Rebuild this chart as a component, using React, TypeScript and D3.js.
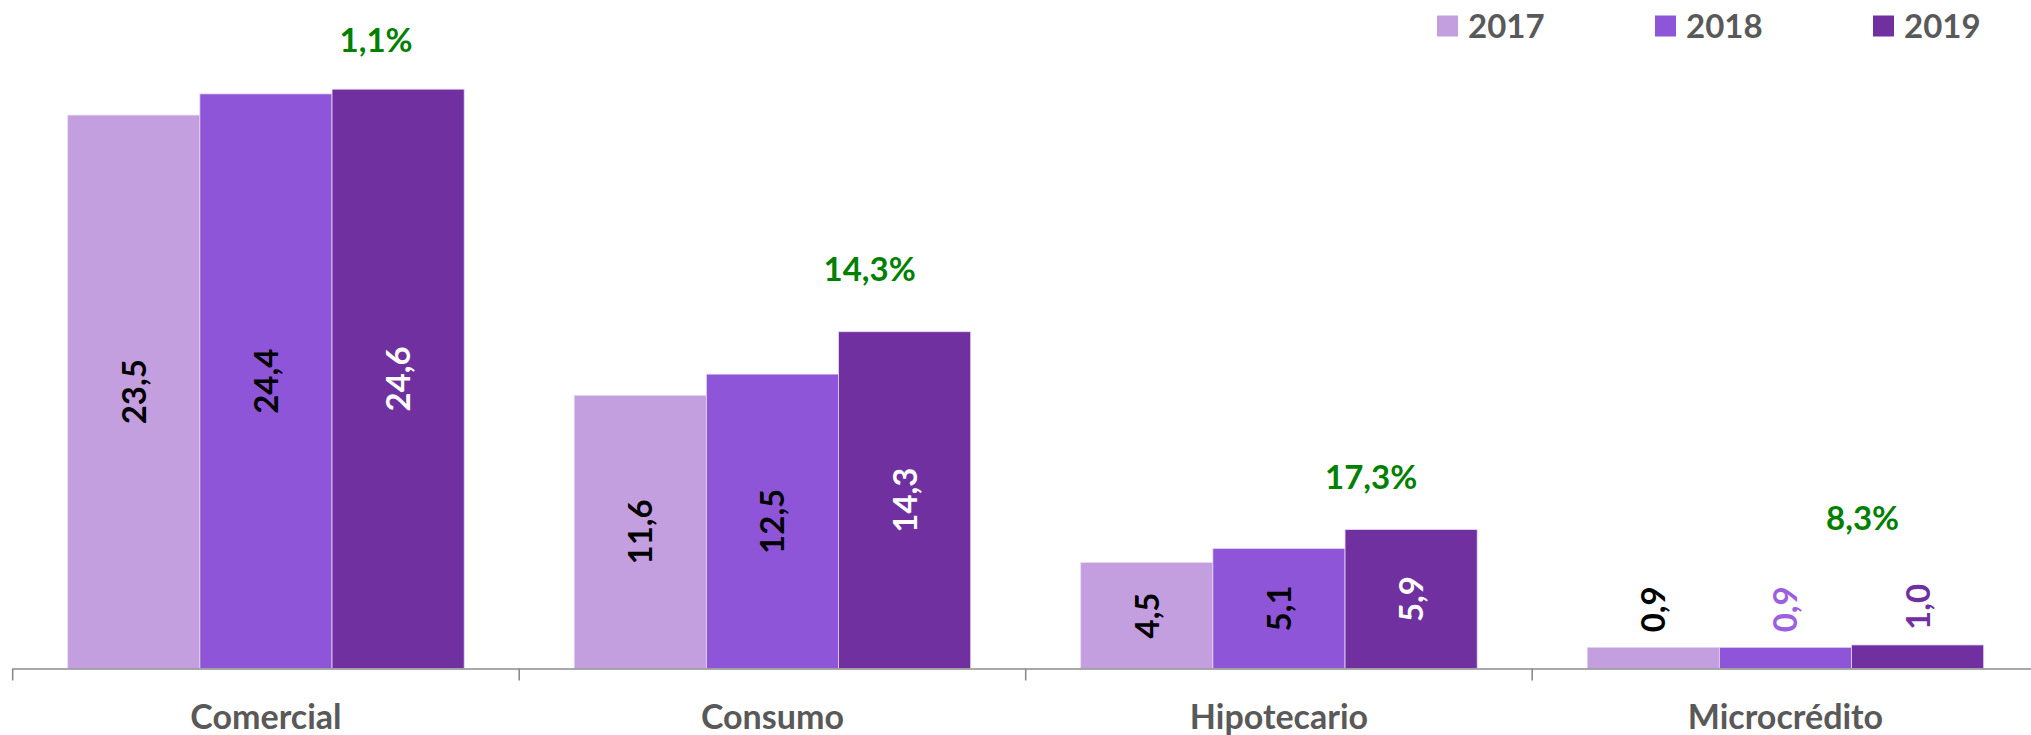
import React from "react";
import * as d3 from "d3";

const categories = ["Comercial", "Consumo", "Hipotecario", "Microcrédito"];
const years = ["2017", "2018", "2019"];
const values2017 = [23.5, 11.6, 4.5, 0.9];
const values2018 = [24.4, 12.5, 5.1, 0.9];
const values2019 = [24.6, 14.3, 5.9, 1.0];
const growth = [1.1, 14.3, 17.3, 8.3];

const seriesValues = [values2017, values2018, values2019];

// layout / style (kept apart from data)
const W = 2031;
const H = 735;
const colors = ["#C49FE0", "#8F55D9", "#7030A0"];
const insideLabelColors = ["#000000", "#000000", "#FFFFFF"];
const outsideLabelColors = ["#000000", "#9A60E0", "#7030A0"];
const growthOffsets = [
  { dx: -22, dy: -37.5 },
  { dx: -35, dy: -51 },
  { dx: -40, dy: -40.5 },
  { dx: -55, dy: -115 },
];
const FONT = "Lato, 'Open Sans', sans-serif";
const plotLeft = 12.7;
const catWidth = 506.5;
const baseY = 668.5;
const pxPerUnit = 23.55;

const fmt = (v: number) => d3.format(".1f")(v).replace(".", ",");

export default function App() {
  const x0 = d3
    .scaleBand<string>()
    .domain(categories)
    .range([plotLeft, plotLeft + catWidth * categories.length])
    .paddingInner(0)
    .paddingOuter(0);
  const x1 = d3
    .scaleBand<string>()
    .domain(years)
    .range([55, catWidth - 55])
    .padding(0);
  const yMax = 28;
  const y = d3.scaleLinear().domain([0, yMax]).range([baseY, baseY - yMax * pxPerUnit]);

  const tickXs = categories.map((c) => x0(c)!);

  return (
    <svg
      width={W}
      height={H}
      style={{ position: "absolute", left: 0, top: 0, background: "#fff" }}
      fontFamily={FONT}
    >
      <rect x={0} y={0} width={W} height={H} fill="#fff" />
      {/* bars */}
      {categories.map((c, ci) => (
        <g key={c} transform={`translate(${x0(c)},0)`}>
          {years.map((yr, si) => {
            const v = seriesValues[si][ci];
            const bx = x1(yr)!;
            const bw = x1.bandwidth();
            const top = y(v);
            return (
              <rect
                key={yr}
                x={bx}
                y={top}
                width={bw}
                height={baseY - top}
                fill={colors[si]}
                stroke="#E6DAF3"
                strokeWidth={0.8}
              />
            );
          })}
        </g>
      ))}
      {/* axis */}
      <line x1={plotLeft} x2={W} y1={baseY + 0.5} y2={baseY + 0.5} stroke="#8C8C8C" strokeWidth={1.6} />
      {tickXs.map((tx, i) => (
        <line key={i} x1={tx} x2={tx} y1={baseY} y2={baseY + 12} stroke="#8C8C8C" strokeWidth={1.6} />
      ))}
      {/* category labels */}
      {categories.map((c) => (
        <text
          key={c}
          x={x0(c)! + catWidth / 2}
          y={729}
          textAnchor="middle"
          fontSize={34}
          fontWeight={700}
          fill="#595959"
        >
          {c}
        </text>
      ))}
      {/* value labels */}
      {categories.map((c, ci) =>
        years.map((yr, si) => {
          const v = seriesValues[si][ci];
          const cx = x0(c)! + x1(yr)! + x1.bandwidth() / 2;
          const top = y(v);
          const inside = baseY - top > 80;
          if (inside) {
            const cy = (top + baseY) / 2;
            return (
              <text
                key={c + yr}
                transform={`translate(${cx},${cy}) rotate(-90)`}
                textAnchor="middle"
                dy="0.36em"
                fontSize={33}
                fontWeight={700}
                fill={insideLabelColors[si]}
              >
                {fmt(v)}
              </text>
            );
          }
          return (
            <text
              key={c + yr}
              transform={`translate(${cx},${top - 15}) rotate(-90)`}
              textAnchor="start"
              dy="0.36em"
              fontSize={33}
              fontWeight={700}
              fill={outsideLabelColors[si]}
            >
              {fmt(v)}
            </text>
          );
        })
      )}
      {/* growth labels */}
      {categories.map((c, ci) => {
        const cx = x0(c)! + x1("2019")! + x1.bandwidth() / 2;
        const top = y(values2019[ci]);
        const off = growthOffsets[ci];
        return (
          <text
            key={"g" + c}
            x={cx + off.dx}
            y={top + off.dy}
            textAnchor="middle"
            fontSize={33}
            fontWeight={700}
            fill="#008000"
          >
            {fmt(growth[ci]) + "%"}
          </text>
        );
      })}
      {/* legend */}
      {years.map((yr, i) => {
        const lx = 1437 + i * 218;
        return (
          <g key={yr}>
            <rect x={lx} y={15.5} width={21} height={21} fill={colors[i]} />
            <text x={lx + 31} y={37.5} fontSize={33} fontWeight={700} fill="#595959">
              {yr}
            </text>
          </g>
        );
      })}
    </svg>
  );
}
